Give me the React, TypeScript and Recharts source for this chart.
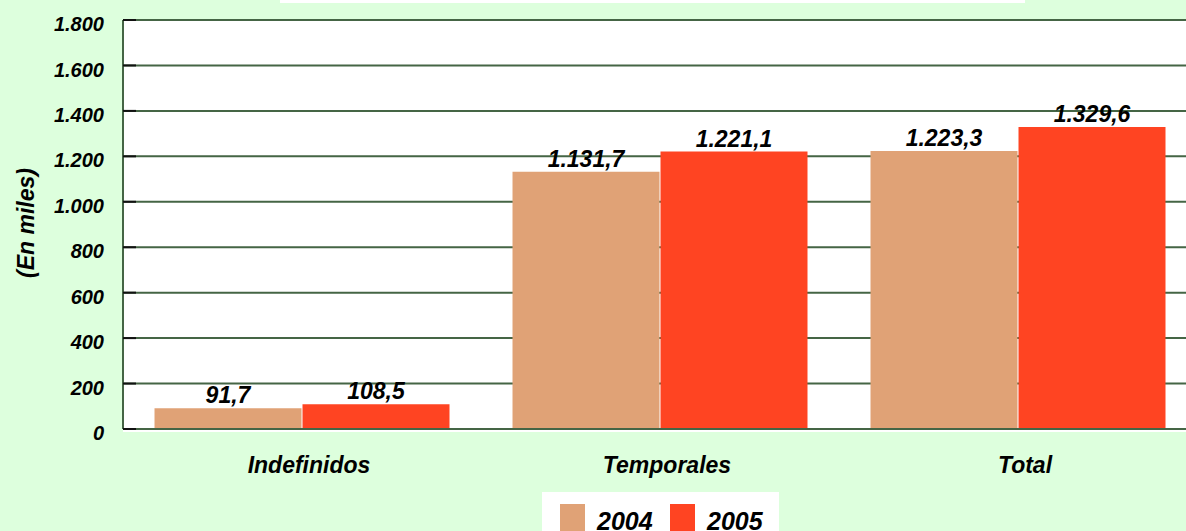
import React from 'react';
import { BarChart, Bar, XAxis, YAxis, CartesianGrid, Legend, LabelList } from 'recharts';

const categories = ['Indefinidos', 'Temporales', 'Total'];
const values2004 = [91.7, 1131.7, 1223.3];
const values2005 = [108.5, 1221.1, 1329.6];
const yTicks = [0, 200, 400, 600, 800, 1000, 1200, 1400, 1600, 1800];
const seriesNames = ['2004', '2005'];
const seriesColors = ['#e0a276', '#ff4422'];

const data = categories.map((c, i) => ({ name: c, y2004: values2004[i], y2005: values2005[i] }));

const FONT = '"Liberation Sans", Arial, Helvetica, sans-serif';

function fmtThousands(n: number): string {
  const s = Math.round(n).toString();
  return s.replace(/\B(?=(\d{3})+(?!\d))/g, '.');
}
function fmtValue(v: number): string {
  const intPart = Math.floor(v);
  const dec = Math.round((v - intPart) * 10);
  return fmtThousands(intPart) + ',' + dec;
}

const YTick = (props: any) => {
  const { y, payload } = props;
  return (
    <g>
      <line x1={123} x2={136} y1={y} y2={y} stroke="#111" strokeWidth={2} />
      <text x={104} y={y + 4} dy="0.355em" textAnchor="end" fontFamily={FONT} fontSize={20} fontWeight="bold" fontStyle="italic" fill="#000">
        {fmtThousands(payload.value)}
      </text>
    </g>
  );
};

const XTick = (props: any) => {
  const { x, payload } = props;
  return (
    <text x={x + 7} y={473} textAnchor="middle" fontFamily={FONT} fontSize={23} fontWeight="bold" fontStyle="italic" fill="#000">
      {payload.value}
    </text>
  );
};

const LegendContent = () => (
  <div style={{ position: 'absolute', left: 0, top: 0, width: 237, height: 45, background: '#fff', fontFamily: FONT }}>
    {seriesNames.map((n, i) => (
      <React.Fragment key={n}>
        <div style={{ position: 'absolute', left: 18 + i * 110, top: 12, width: 25, height: 33, background: seriesColors[i] }} />
        <span style={{ position: 'absolute', left: 55 + i * 110, top: 17, fontSize: 25, lineHeight: '25px', fontWeight: 'bold', fontStyle: 'italic', color: '#000', whiteSpace: 'nowrap' }}>{n}</span>
      </React.Fragment>
    ))}
  </div>
);

const labelStyle = { fontFamily: FONT, fontSize: 23, fontWeight: 'bold', fontStyle: 'italic', fill: '#000' } as any;

export default function App() {
  return (
    <div style={{ position: 'fixed', left: 0, top: 0, width: 1186, height: 531, overflow: 'hidden', background: '#ddffdd' }}>
      <div style={{ position: 'absolute', left: 280, top: 0, width: 745, height: 3, background: '#fff' }} />
      <div style={{ position: 'absolute', left: 123, top: 20, width: 1100, height: 412, background: '#fff' }} />
      <div style={{ position: 'absolute', left: 0, top: 0 }}>
        <BarChart
          width={1210}
          height={531}
          data={data}
          margin={{ top: 20, right: 13, left: 0, bottom: 72 }}
          barCategoryGap="8.8%"
          barGap={1}
        >
          <CartesianGrid vertical={false} stroke="#456545" strokeWidth={2} />
          <XAxis
            dataKey="name"
            height={30}
            axisLine={{ stroke: '#456545', strokeWidth: 2 }}
            tickLine={false}
            tickSize={0}
            tick={<XTick />}
            interval={0}
          />
          <YAxis
            width={123}
            domain={[0, 1800]}
            ticks={yTicks}
            interval={0}
            axisLine={{ stroke: '#456545', strokeWidth: 2 }}
            tickLine={false}
            tick={<YTick />}
            label={{
              content: () => (
                <text x={26} y={223} transform="rotate(-90 26 223)" textAnchor="middle" dominantBaseline="central" fontFamily={FONT} fontSize={23} fontWeight="bold" fontStyle="italic" fill="#000">
                  (En miles)
                </text>
              ),
            }}
          />
          <Legend
            content={<LegendContent />}
            wrapperStyle={{ position: 'absolute', left: 542, top: 492, width: 237, height: 0, overflow: 'visible' }}
          />
          <Bar dataKey="y2004" name={seriesNames[0]} fill={seriesColors[0]} isAnimationActive={false}>
            <LabelList dataKey="y2004" position="top" offset={5} formatter={(v: any) => fmtValue(Number(v))} style={labelStyle} />
          </Bar>
          <Bar dataKey="y2005" name={seriesNames[1]} fill={seriesColors[1]} isAnimationActive={false}>
            <LabelList dataKey="y2005" position="top" offset={5} formatter={(v: any) => fmtValue(Number(v))} style={labelStyle} />
          </Bar>
        </BarChart>
      </div>
    </div>
  );
}
